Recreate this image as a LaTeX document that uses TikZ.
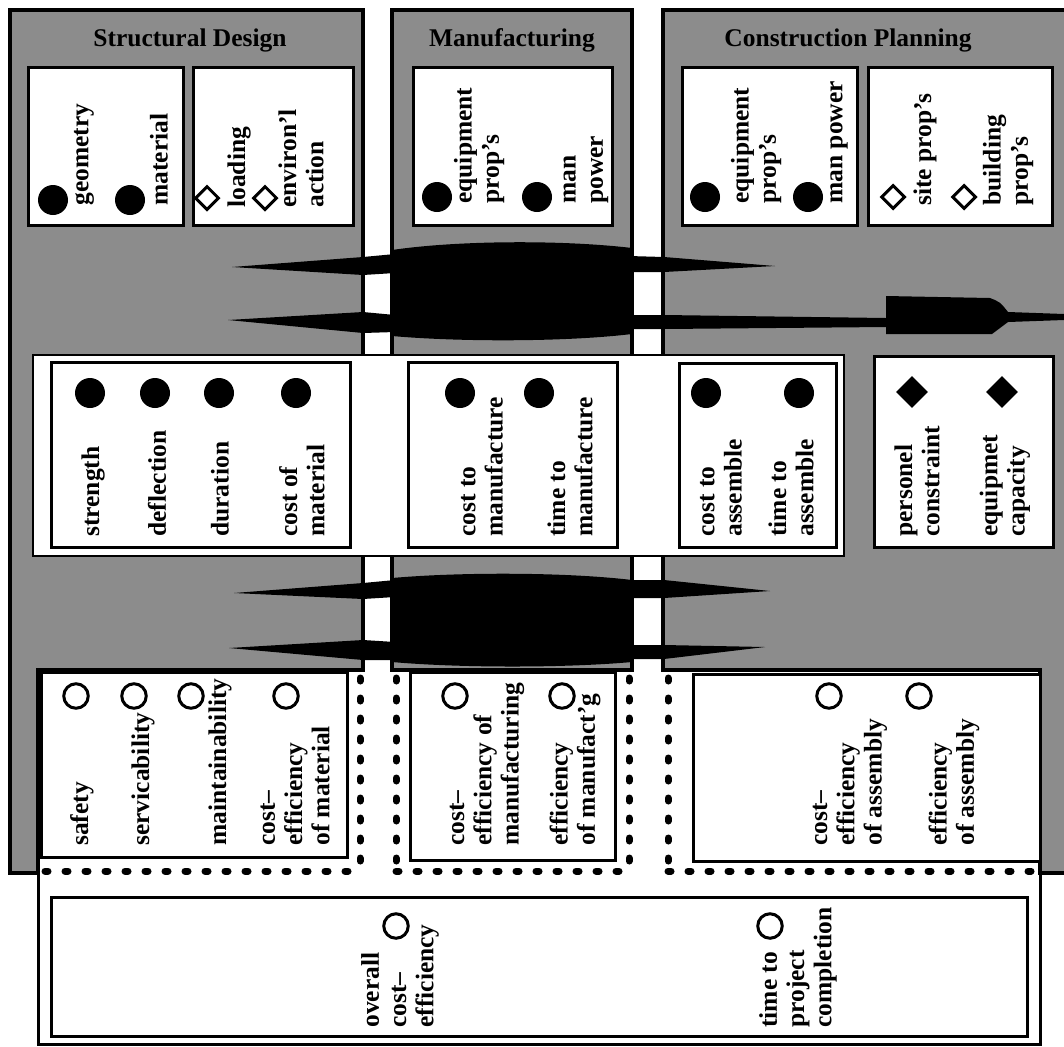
\documentclass[tikz,border=0pt]{standalone}
\usepackage{fontspec}
\setmainfont{Liberation Serif}
\usepackage{tikz}
\usetikzlibrary{shapes.geometric}
\newcommand{\lblfont}{\fontsize{14.5}{15.5}\selectfont\bfseries}
\tikzstyle{panel} = [draw=black, line width=0.8mm, fill=black!45]
\tikzstyle{box} = [draw=black, line width=0.6mm, fill=white]
\tikzstyle{frame} = [draw=black, line width=0.6mm]

\begin{document}
\begin{tikzpicture}[x=0.2mm, y=-0.2mm,
    lbl/.style={rotate=90, anchor=west, align=left, inner sep=0pt, font=\lblfont},
    head/.style={font=\lblfont, inner sep=0pt},
    bullet/.style={circle, fill=black, minimum size=6mm, inner sep=0pt},
    ring/.style={circle, draw, line width=0.6mm, minimum size=4.9mm, inner sep=0pt},
    gem/.style={diamond, draw, line width=0.6mm, minimum size=4.8mm, inner sep=0pt},
    solidgem/.style={diamond, fill=black, minimum size=6.4mm, inner sep=0pt},
    dotline/.style={line width=1.4mm, line cap=round, dash pattern=on 0.6mm off 3.4mm}
]
    \useasboundingbox (0,0) rectangle (1064,1046);
    \clip (0,0) rectangle (1064,1046);

    % Grey panels
    \filldraw[panel] (10,10) -- (363,10) -- (363,670) -- (38,670) -- (38,873) -- (10,873) -- cycle;
    \filldraw[panel] (392,10) rectangle (632,670);
    \filldraw[panel] (663,10) -- (1080,10) -- (1080,873) -- (1040,873) -- (1040,670) -- (663,670) -- cycle;

    % Panel headers
    \node[head] (sdhead) at (190,40) {Structural Design};
    \node[head] (mfhead) at (512,40) {Manufacturing};
    \node[head] (cphead) at (848,40) {Construction Planning};

    % Input boxes
    \filldraw[box] (28,67) rectangle (183,225);
    \filldraw[box] (193,67) rectangle (353,225);
    \filldraw[box] (413,67) rectangle (612,225);
    \filldraw[box] (682,67) rectangle (857,225);
    \filldraw[box] (868,67) rectangle (1052,225);

    % Inputs - Structural Design
    \node[bullet] (geob) at (53,200) {};
    \node[lbl] (geo) at (84,206) {geometry};
    \node[bullet] (matb) at (130,200) {};
    \node[lbl] (mat) at (159,206) {material};
    \node[gem] (loadg) at (207,198) {};
    \node[lbl] (load) at (239,208) {loading};
    \node[gem] (envg) at (265,198) {};
    \node[lbl] (env) at (301,208) {environ'l\\action};

    % Inputs - Manufacturing
    \node[bullet] (mequipb) at (437,197) {};
    \node[lbl] (mequip) at (479,204) {equipment\\prop's};
    \node[bullet] (mmanb) at (537,197) {};
    \node[lbl] (mman) at (586,204) {man\\power};

    % Inputs - Construction Planning
    \node[bullet] (cequipb) at (705,197) {};
    \node[lbl] (cequip) at (756,204) {equipment\\prop's};
    \node[bullet] (cmanb) at (808,197) {};
    \node[lbl] (cman) at (839,204) {man power};
    \node[gem] (siteg) at (893,197) {};
    \node[lbl] (site) at (925,206) {site prop's};
    \node[gem] (bldg) at (964,197) {};
    \node[lbl] (bld) at (1008,206) {building\\prop's};

    % Upper arrows
    \fill (392,250) .. controls (460,240) and (565,240) .. (632,248) -- (632,334) .. controls (565,342) and (460,342) .. (392,336) -- cycle;
    \fill (232,267) -- (363,257) -- (395,254) -- (395,273) -- (363,275) -- cycle;
    \fill (228,320) -- (363,312) -- (395,315) -- (395,332) -- (363,333) -- cycle;
    \fill (629,256) -- (664,257) -- (775,266) -- (664,272) -- (629,272) -- cycle;
    \fill (629,315) -- (664,315) -- (886,318) -- (886,296) -- (990,298) .. controls (1000,302) .. (1008,312) -- (1064,314) -- (1064,320) -- (1008,322) -- (992,334) -- (886,334) -- (886,327) -- (664,329) -- (629,329) -- cycle;

    % Lower arrows
    \fill (392,578) .. controls (460,572) and (565,572) .. (632,580) -- (632,662) .. controls (565,668) and (460,668) .. (392,662) -- cycle;
    \fill (234,593) -- (363,583) -- (395,580) -- (395,597) -- (363,599) -- cycle;
    \fill (229,648) -- (363,640) -- (395,642) -- (395,660) -- (363,660) -- cycle;
    \fill (629,580) -- (664,580) -- (770,591) -- (664,598) -- (629,598) -- cycle;
    \fill (629,645) -- (664,645) -- (765,647) -- (664,659) -- (629,659) -- cycle;

    % Performance boxes
    \filldraw[draw=black, line width=0.5mm, fill=white] (33,355) rectangle (844,556);
    \filldraw[box] (51,362) rectangle (350,547);
    \filldraw[box] (408,362) rectangle (617,547);
    \filldraw[box] (679,363) rectangle (836,547);
    \filldraw[box] (874,356) rectangle (1053,547);

    % Performance - Structural Design
    \node[bullet] (strb) at (90,393) {};
    \node[lbl] (str) at (93,537) {strength};
    \node[bullet] (defb) at (155,393) {};
    \node[lbl] (def) at (157,537) {deflection};
    \node[bullet] (durb) at (219,393) {};
    \node[lbl] (dur) at (220,537) {duration};
    \node[bullet] (comb) at (296,393) {};
    \node[lbl] (com) at (302,537) {cost of\\material};

    % Performance - Manufacturing
    \node[bullet] (ctmb) at (460,393) {};
    \node[lbl] (ctm) at (482,537) {cost to\\manufacture};
    \node[bullet] (ttmb) at (539,393) {};
    \node[lbl] (ttm) at (570,537) {time to\\manufacture};

    % Performance - Construction Planning
    \node[bullet] (ctab) at (706,393) {};
    \node[lbl] (cta) at (721,537) {cost to\\assemble};
    \node[bullet] (ttab) at (799,393) {};
    \node[lbl] (tta) at (791,537) {time to\\assemble};
    \node[solidgem] (persg) at (912,392) {};
    \node[lbl] (pers) at (917,537) {personel\\constraint};
    \node[solidgem] (capg) at (1002,392) {};
    \node[lbl] (cap) at (1005,537) {equipmet\\capacity};

    % Evaluation boxes
    \filldraw[box] (41,672) rectangle (347,857);
    \filldraw[box] (410,672) rectangle (615,860);
    \filldraw[box] (693,674) rectangle (1040,861);

    % Dotted boundaries
    \draw[dotline] (360,678) -- (360,871);
    \draw[dotline] (396,678) -- (396,871);
    \draw[dotline] (629,678) -- (629,871);
    \draw[dotline] (668,678) -- (668,871);
    \draw[dotline] (45,871) -- (356,871);
    \draw[dotline] (396,871) -- (629,871);
    \draw[dotline] (668,871) -- (1036,871);

    % Evaluation - Structural Design
    \node[ring] (safr) at (76,696) {};
    \node[lbl] (saf) at (82,846) {safety};
    \node[ring] (serr) at (134,696) {};
    \node[lbl] (ser) at (143,846) {servicability};
    \node[ring] (mntr) at (191,696) {};
    \node[lbl] (mnt) at (220,846) {maintainability};
    \node[ring] (cemr) at (286,696) {};
    \node[lbl] (cem) at (295,846) {cost--\\efficiency\\of material};

    % Evaluation - Manufacturing
    \node[ring] (cefr) at (455,696) {};
    \node[lbl] (cef) at (487,846) {cost--\\efficiency of\\manufacturing};
    \node[ring] (efmr) at (562,696) {};
    \node[lbl] (efm) at (575,846) {efficiency\\of manufact'g};

    % Evaluation - Construction Planning
    \node[ring] (cear) at (829,696) {};
    \node[lbl] (cea) at (850,846) {cost--\\efficiency\\of assembly};
    \node[ring] (efar) at (919,696) {};
    \node[lbl] (efa) at (954,846) {efficiency\\of assembly};

    % Project level
    \draw[frame] (38,873) |- (1040,1044) -- (1040,873);
    \draw[frame] (51,897) rectangle (1027,1036);
    \node[ring] (ovr) at (396,926) {};
    \node[lbl] (ov) at (400,1028) {overall\\cost--\\efficiency};
    \node[ring] (tpr) at (770,926) {};
    \node[lbl] (tp) at (798,1028) {time to\\project\\completion};

\end{tikzpicture}
\end{document}
